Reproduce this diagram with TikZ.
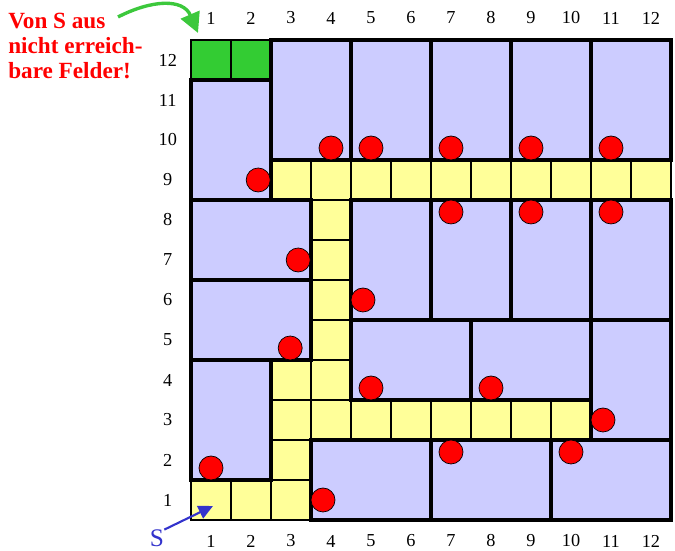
\documentclass[tikz,border=0pt]{standalone}
\usepackage{fontspec}
\setmainfont{Liberation Serif}
\usepackage{xcolor}
\usepackage{tikz}
\usetikzlibrary{arrows.meta}
\definecolor{roomfill}{HTML}{CCCCFF}
\definecolor{wayfill}{HTML}{FFFF99}
\definecolor{unreach}{HTML}{33CC33}
\definecolor{hint}{HTML}{3CC83C}
\definecolor{startcol}{HTML}{3333CC}

\begin{document}
\begin{tikzpicture}[
  font=\fontsize{13}{15}\selectfont,
  way/.style={draw, fill=wayfill, line width=0.9pt},
  unr/.style={draw, fill=unreach, line width=0.9pt, minimum size=1cm, inner sep=0pt},
  room/.style={draw, fill=roomfill, line width=2.8pt},
  coin/.style={circle, draw, fill=red, line width=0.5pt, minimum size=6mm, inner sep=0pt},
  num/.style={inner sep=0pt},
  arr/.style={-{Triangle[length=3.6mm, width=3.4mm]}, line width=1.5pt},
]
\useasboundingbox (-4.775,-0.775) rectangle (12.1,13.0);
\foreach \c/\r in {1/1, 2/1, 3/1, 3/2, 3/3, 3/4, 4/4, 4/3, 5/3, 6/3, 7/3, 8/3, 9/3, 10/3,
                   4/5, 4/6, 4/7, 4/8, 3/9, 4/9, 5/9, 6/9, 7/9, 8/9, 9/9, 10/9, 11/9, 12/9}
  \draw[way] (\c-1,\r-1) rectangle ++(1,1);
\node[unr] (u1) at (0.5,11.5) {};
\node[unr] (u2) at (1.5,11.5) {};
\foreach \xa/\ya/\xb/\yb in {0/8/2/11, 2/9/4/12, 4/9/6/12, 6/9/8/12, 8/9/10/12, 10/9/12/12,
                             0/6/3/8, 0/4/3/6, 0/1/2/4,
                             4/5/6/8, 6/5/8/8, 8/5/10/8, 10/5/12/8,
                             4/3/7/5, 7/3/10/5, 10/2/12/5,
                             3/0/6/2, 6/0/9/2, 9/0/12/2}
  \draw[room] (\xa,\ya) rectangle (\xb,\yb);
\foreach \x/\y [count=\i] in {3.5/9.3, 4.5/9.3, 6.5/9.3, 8.5/9.3, 10.5/9.3, 1.68/8.5,
                              6.5/7.7, 8.5/7.7, 10.5/7.7, 2.68/6.5, 4.3/5.5, 2.48/4.3,
                              4.5/3.3, 7.5/3.3, 10.3/2.5, 6.5/1.7, 9.5/1.7, 0.5/1.3, 3.3/0.5}
  \node[coin] (c\i) at (\x,\y) {};
\foreach \n in {1,...,12} {
  \node[num] (top\n) at (\n-0.5,12.55) {\n};
  \node[num] (bot\n) at (\n-0.5,-0.525) {\n};
  \node[num] (row\n) at (-0.58,\n-0.5) {\n};
}
\node[anchor=base west, inner sep=0pt, align=left, text=red,
      font=\fontsize{16.5}{18}\selectfont\bfseries] (note) at (-4.575,11.025)
      {Von S aus\\nicht erreich-\\bare Felder!};
\coordinate (gfrom) at (-1.825,12.575);
\coordinate (gto) at (0.175,12.175);
\draw[arr, hint, line width=2.4pt, -{Triangle[length=5mm, width=5mm]}]
  (gfrom) .. controls (-1.0,13.0) and (-0.2,13.05) .. (gto);
\node[num, text=startcol, font=\fontsize{18}{20}\selectfont] (S) at (-0.85,-0.46) {S};
\coordinate (sto) at (0.55,0.35);
\draw[arr, startcol] (S.north east) -- (sto);
\end{tikzpicture}
\end{document}
